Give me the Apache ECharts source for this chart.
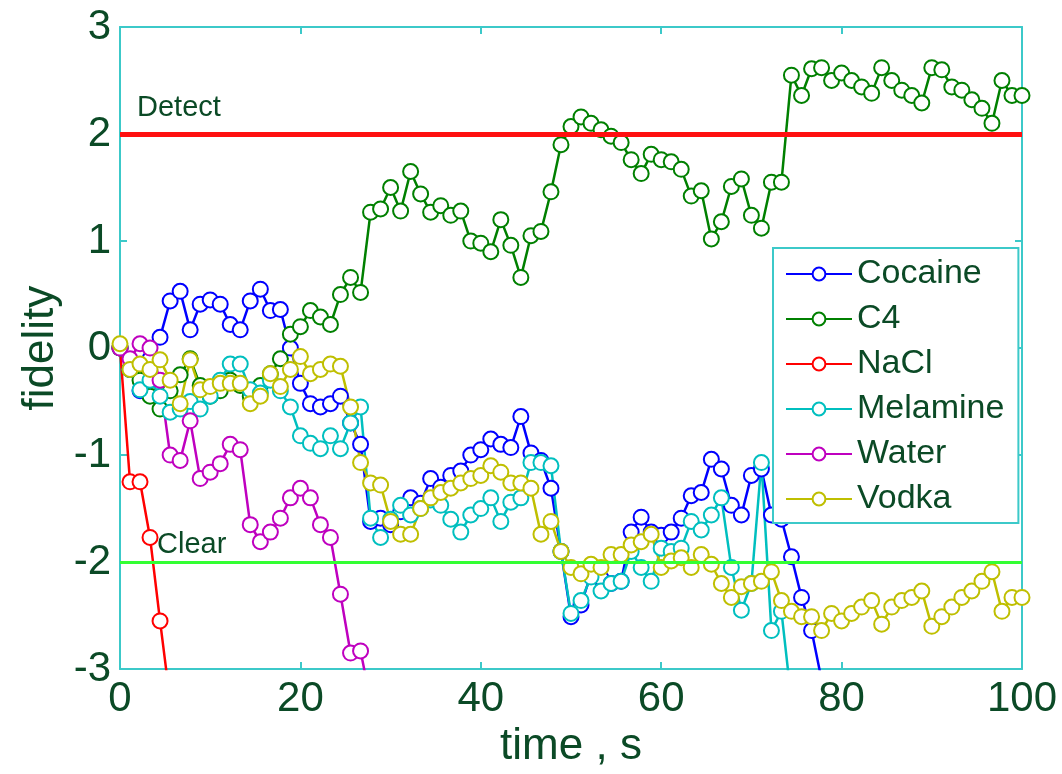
<!DOCTYPE html>
<html>
<head>
<meta charset="utf-8">
<title>fidelity vs time</title>
<script src="https://cdn.jsdelivr.net/npm/echarts@6.0.0/dist/echarts.min.js"></script>
<style>
  html, body { margin: 0; padding: 0; background: #fff; }
  #chart { width: 1062px; height: 774px; }
</style>
</head>
<body>
<div id="chart"></div>
<script>
// sample times, s (91 samples over 100 s)
const time = Array.from({ length: 91 }, (_, i) => +(i * 100 / 90).toFixed(2));

// fidelity, one value per sample
const cocaine = [0, -0.2, -0.4, -0.1, 0.1, 0.44, 0.53, 0.17, 0.41, 0.45, 0.41, 0.22, 0.17, 0.44, 0.55, 0.35,
  0.36, 0.0, -0.33, -0.52, -0.55, -0.52, -0.45, -0.7, -0.9, -1.62, -1.59, -1.65, -1.53, -1.4, -1.45, -1.22,
  -1.3, -1.19, -1.15, -1.0, -0.95, -0.85, -0.9, -0.93, -0.64, -0.98, -1.05, -1.31, -1.9, -2.51, -2.4, -2.11,
  -2.15, -2.2, -2.18, -1.72, -1.58, -1.72, -1.75, -1.72, -1.59, -1.38, -1.35, -1.04, -1.13, -1.47, -1.56,
  -1.19, -1.13, -1.56, -1.6, -1.95, -2.33, -2.64, -3.1];
const c4 = [0, -0.2, -0.3, -0.45, -0.57, -0.4, -0.25, -0.1, -0.35, -0.45, -0.4, -0.3, -0.35, -0.45, -0.35,
  -0.24, -0.1, 0.13, 0.2, 0.35, 0.29, 0.22, 0.5, 0.66, 0.52, 1.27, 1.3, 1.5, 1.28, 1.65, 1.44, 1.27, 1.33,
  1.24, 1.28, 1.0, 0.98, 0.9, 1.2, 0.96, 0.66, 1.05, 1.09, 1.46, 1.9, 2.07, 2.16, 2.1, 2.04, 1.98, 1.92,
  1.76, 1.63, 1.81, 1.76, 1.74, 1.67, 1.42, 1.47, 1.02, 1.18, 1.51, 1.58, 1.24, 1.12, 1.55, 1.55, 2.55,
  2.36, 2.61, 2.62, 2.5, 2.57, 2.5, 2.44, 2.38, 2.62, 2.5, 2.41, 2.36, 2.29, 2.62, 2.6, 2.44, 2.41, 2.32,
  2.24, 2.1, 2.5, 2.36, 2.36];
const nacl = [0, -1.25, -1.25, -1.77, -2.55, -3.3];
const melamine = [0, -0.2, -0.39, -0.3, -0.45, -0.6, -0.57, -0.5, -0.57, -0.45, -0.3, -0.15, -0.15, -0.39,
  -0.42, -0.3, -0.4, -0.55, -0.82, -0.89, -0.94, -0.82, -0.94, -0.7, -0.55, -1.59, -1.77, -1.6, -1.47,
  -1.56, -1.5, -1.42, -1.47, -1.6, -1.72, -1.56, -1.5, -1.4, -1.62, -1.44, -1.4, -1.07, -1.07, -1.1, -1.9,
  -2.48, -2.36, -2.14, -2.27, -2.2, -2.18, -1.9, -2.05, -2.18, -1.87, -1.9, -1.87, -1.62, -1.7, -1.56,
  -1.4, -2.05, -2.45, -2.2, -1.07, -2.64, -2.46, -3.3];
const water = [0, -0.1, 0.04, 0.0, -0.3, -1.0, -1.05, -0.68, -1.22, -1.16, -1.08, -0.9, -0.95, -1.65, -1.81,
  -1.72, -1.59, -1.4, -1.31, -1.4, -1.65, -1.77, -2.3, -2.85, -2.83, -3.3];
const vodka = [0.04, -0.2, -0.15, -0.2, -0.11, -0.3, -0.52, -0.11, -0.39, -0.36, -0.33, -0.33, -0.33, -0.52,
  -0.45, -0.24, -0.36, -0.2, -0.08, -0.24, -0.2, -0.15, -0.17, -0.55, -1.07, -1.26, -1.28, -1.62, -1.74,
  -1.74, -1.5, -1.4, -1.35, -1.31, -1.26, -1.22, -1.19, -1.1, -1.16, -1.26, -1.26, -1.31, -1.74, -1.62,
  -1.9, -2.05, -2.11, -2.02, -2.05, -1.93, -1.93, -1.84, -1.81, -1.74, -2.05, -1.99, -1.96, -2.05, -1.93,
  -2.02, -2.2, -2.33, -2.23, -2.2, -2.18, -2.09, -2.36, -2.46, -2.51, -2.51, -2.64, -2.48, -2.55, -2.48,
  -2.42, -2.36, -2.58, -2.42, -2.36, -2.33, -2.27, -2.6, -2.51, -2.42, -2.33, -2.27, -2.18, -2.09, -2.46,
  -2.33, -2.33];

const seriesNames = ['Cocaine', 'C4', 'NaCl', 'Melamine', 'Water', 'Vodka'];
const seriesValues = [cocaine, c4, nacl, melamine, water, vodka];
const seriesColors = ['#0000ff', '#008000', '#ff0000', '#00bfbf', '#bf00bf', '#bfbf00'];

const thresholdNames = ['Detect', 'Clear'];
const thresholdValues = [2, -2];
const thresholdColors = ['#ff1010', '#33ff33'];

const xTicks = [0, 20, 40, 60, 80, 100];
const yTicks = [-3, -2, -1, 0, 1, 2, 3];

const FONT = "'Liberation Sans', Arial, sans-serif";
const TEXT = '#0b4a26';
const FRAME = '#3cc9c9';

const chart = echarts.init(document.getElementById('chart'), null, { renderer: 'canvas' });

const lineSeries = seriesNames.map((name, k) => ({
  name: name,
  type: 'line',
  data: seriesValues[k].map((v, i) => [time[i], v]),
  symbol: 'emptyCircle',
  symbolSize: 15,
  showAllSymbol: true,
  clip: true,
  color: seriesColors[k],
  lineStyle: { color: seriesColors[k], width: 2.5 },
  itemStyle: { color: seriesColors[k], borderColor: seriesColors[k], borderWidth: 2.5 },
  emphasis: { disabled: true }
}));

// threshold lines sit on top of everything, so hang them on the last series
lineSeries[lineSeries.length - 1].markLine = {
  silent: true,
  symbol: 'none',
  animation: false,
  data: thresholdNames.map((name, k) => ({
    yAxis: thresholdValues[k],
    lineStyle: { color: thresholdColors[k], width: k === 0 ? 5 : 3, type: 'solid' },
    label: {
      show: true,
      formatter: name,
      position: 'insideStartTop',
      distance: k === 0 ? [17, 12] : [37, 3],
      color: TEXT,
      fontFamily: FONT,
      fontSize: 29
    }
  }))
};

const baseAxis = {
  type: 'value',
  axisLine: { show: true, onZero: false, lineStyle: { color: FRAME, width: 2 } },
  axisTick: { show: true, inside: true, length: 7, lineStyle: { color: FRAME, width: 2 } },
  splitLine: { show: false }
};

const option = {
  animation: false,
  backgroundColor: '#ffffff',
  grid: { left: 120, right: 40, top: 27, bottom: 97, show: false },
  legend: {
    data: seriesNames,
    orient: 'vertical',
    left: 773,
    top: 248,
    padding: [9, 14, 7, 12],
    itemWidth: 66,
    itemHeight: 16,
    itemGap: 11,
    backgroundColor: '#ffffff',
    borderColor: FRAME,
    borderWidth: 2,
    borderRadius: 0,
    textStyle: { color: TEXT, fontFamily: FONT, fontSize: 34, lineHeight: 34 },
    selectedMode: false
  },
  xAxis: [
    Object.assign({}, baseAxis, {
      min: 0, max: 100, interval: 20,
      name: 'time , s',
      nameLocation: 'middle',
      nameGap: 50,
      nameTextStyle: { color: TEXT, fontFamily: FONT, fontSize: 44 },
      axisLabel: {
        color: TEXT, fontFamily: FONT, fontSize: 42, margin: 9,
        customValues: xTicks
      }
    }),
    Object.assign({}, baseAxis, {
      position: 'top', min: 0, max: 100, interval: 20,
      axisLabel: { show: false }
    })
  ],
  yAxis: [
    Object.assign({}, baseAxis, {
      min: -3, max: 3, interval: 1,
      name: 'fidelity',
      nameLocation: 'middle',
      nameGap: 50,
      nameTextStyle: { color: TEXT, fontFamily: FONT, fontSize: 44 },
      axisLabel: {
        color: TEXT, fontFamily: FONT, fontSize: 42, margin: 9,
        customValues: yTicks
      }
    }),
    Object.assign({}, baseAxis, {
      position: 'right', min: -3, max: 3, interval: 1,
      axisLabel: { show: false }
    })
  ],
  series: lineSeries
};

chart.setOption(option);
</script>
</body>
</html>
